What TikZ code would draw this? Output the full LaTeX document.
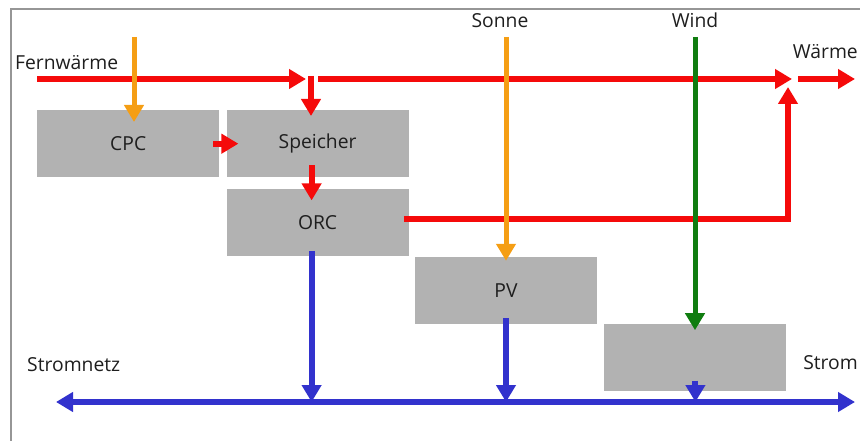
\documentclass[tikz,border=0pt]{standalone}
\usepackage{fontspec}
\setmainfont{Open Sans}
\usetikzlibrary{arrows.meta, positioning}
\definecolor{heatred}{RGB}{245,10,10}
\definecolor{sunorange}{RGB}{245,158,20}
\definecolor{windgreen}{RGB}{16,125,16}
\definecolor{powerblue}{RGB}{50,50,205}
\definecolor{boxgray}{RGB}{178,178,178}
\definecolor{framegray}{RGB}{150,150,150}
\definecolor{textgray}{RGB}{30,30,30}

\begin{document}
\begin{tikzpicture}[x=1pt, y=-1pt, font=\fontsize{19.3}{23}\selectfont,
  >={Triangle[length=17pt,width=19pt]},
  unit/.style={fill=boxgray, minimum width=182pt, minimum height=67pt, inner sep=0pt, text=textgray},
  lbl/.style={inner sep=0pt, text=textgray},
  heatflow/.style={->, line width=6pt, heatred},
  sunflow/.style={->, line width=5pt, sunorange},
  windflow/.style={->, line width=5pt, windgreen},
  powerflow/.style={->, line width=6pt, powerblue}]
\useasboundingbox (0,0) rectangle (860,441);
\draw[framegray, line width=1.5pt] (11,441) -- (11,9) -- (860,9);

% units
\node[unit, anchor=north west] (cpc) at (37,110) {CPC};
\node[unit, right=7pt of cpc] (speicher) {Speicher};
\node[unit, below=11pt of speicher] (orc) {ORC};
\node[unit, below right=1pt and 6pt of orc] (pv) {PV};
\node[unit, below right=0pt and 7pt of pv] (windrad) {};

% labels
\node[lbl, anchor=base west] (fwlabel) at (15,70) {Fernwärme};
\node[lbl, anchor=base] (sonne) at (500,28) {Sonne};
\node[lbl, anchor=base] (wind) at (695,28) {Wind};
\node[lbl, anchor=base east] (waerme) at (858,59) {Wärme};
\node[lbl, anchor=base west] (netzlabel) at (27,371) {Stromnetz};
\node[lbl, anchor=base east] (stromlabel) at (858,369) {Strom};

% free ends
\coordinate (fwin) at (37,79);
\coordinate (branch) at (311,79);
\coordinate (heatmain) at (318,79);
\coordinate (mix) at (792,79);
\coordinate (outstart) at (798,79);
\coordinate (outend) at (855,79);
\coordinate (cpcsun) at (134,37);
\coordinate (pvsun) at (506,37);
\coordinate (windin) at (695,37);
\coordinate (netzleft) at (56,402);
\coordinate (netzright) at (855,402);
\coordinate (orcout) at ([xshift=-6pt]orc.south);
\coordinate (speicherout) at ([xshift=-6pt]speicher.south);

% heat
\draw[heatflow] (fwin) -- ([xshift=-5pt]branch);
\draw[heatflow, shorten <=-3pt, shorten >=-6pt] (branch) -- (branch |- speicher.north);
\draw[heatflow] (heatmain) -- (mix);
\draw[heatflow] (outstart) -- (outend);
\draw[heatflow] ([xshift=-6pt]cpc.east) -- ([xshift=12pt]speicher.west);
\draw[heatflow, shorten <=-12pt, shorten >=-12pt] (speicherout) -- (speicherout |- orc.north);
\draw[heatflow] ([xshift=-5pt,yshift=3.5pt]orc.east) -| ([xshift=-4pt,yshift=-8pt]mix);

% sun and wind
\draw[sunflow, shorten >=-12pt] (cpcsun) -- (cpcsun |- cpc.north);
\draw[sunflow, shorten >=-4pt] (pvsun) -- (pvsun |- pv.north);
\draw[windflow, shorten >=-6pt] (windin) -- (windin |- windrad.north);

% power
\draw[powerflow] ([yshift=5pt]orcout) -- (orcout |- netzleft);
\draw[powerflow] ([yshift=6pt]pv.south) -- (pv.south |- netzleft);
\draw[powerflow] ([yshift=11pt]windrad.south) -- (windrad.south |- netzleft);
\draw[powerflow, <->] (netzleft) -- (netzright);
\end{tikzpicture}
\end{document}
